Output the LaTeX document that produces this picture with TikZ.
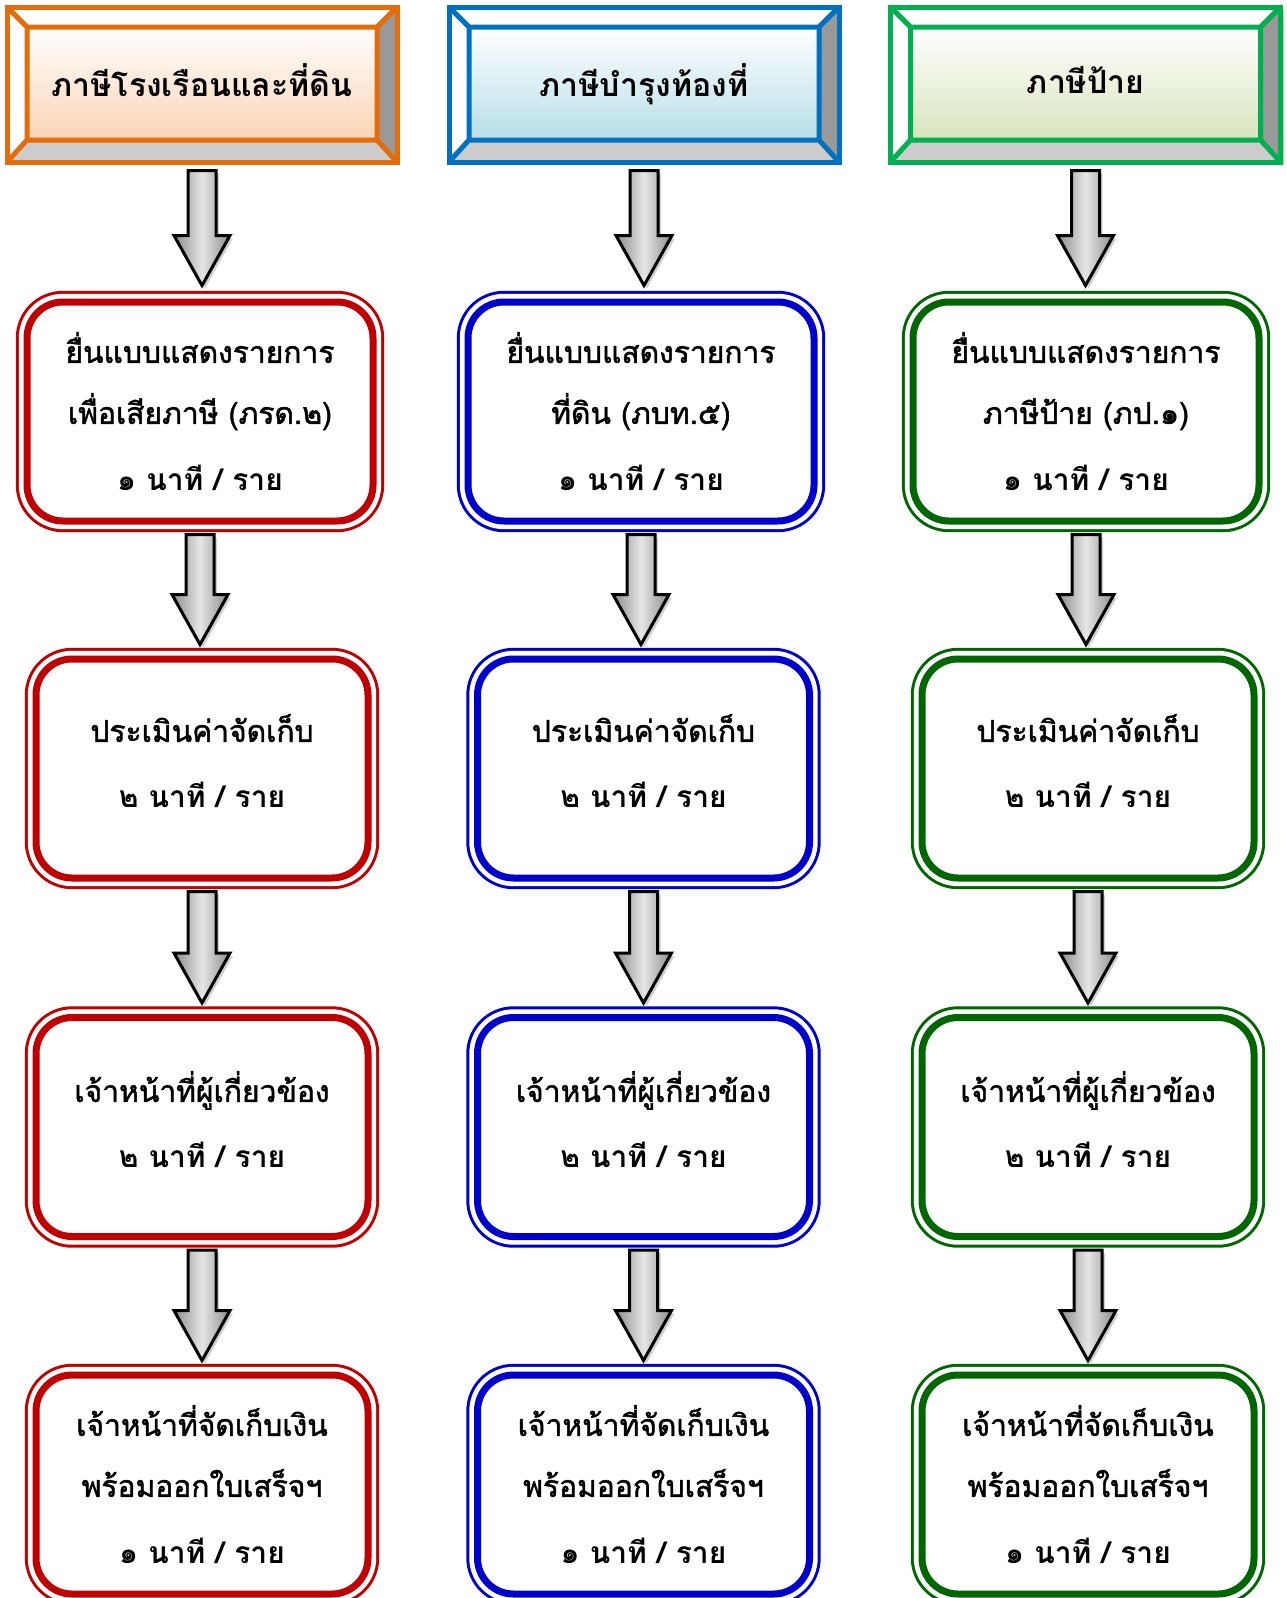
\documentclass[tikz,border=0pt]{standalone}
\usepackage{fontspec}
\newfontfamily\thaifont[Script=Thai,FakeBold=1.5]{Loma}
\newfontfamily\thaibold[Script=Thai]{Loma Bold}
\usetikzlibrary{calc}
\definecolor{hOrange}{HTML}{E46C0A}
\definecolor{hOrangeF}{HTML}{FBD4B4}
\definecolor{hBlue}{HTML}{0070C0}
\definecolor{hBlueF}{HTML}{B7DEE8}
\definecolor{hGreen}{HTML}{00B050}
\definecolor{hGreenF}{HTML}{D7E4BD}
\definecolor{bRed}{HTML}{C00000}
\definecolor{bBlue}{HTML}{0000CC}
\definecolor{bGreen}{HTML}{006600}
\definecolor{hShadow}{RGB}{205,195,175}
\newcommand\tb{\thaibold}
\newcommand\lowpad{\rule[-15pt]{0pt}{0pt}}
\tikzset{
  hdr/.style 2 args={draw=#1, line width=5pt, minimum width=390pt, minimum height=155pt,
    inner sep=0pt, font=\thaibold\fontsize{32}{38}\selectfont,
    preaction={fill=hShadow, transform canvas={shift={(3pt,-3pt)}}},
    fill=white,
    path picture={
      \coordinate (pa) at ([shift={(20pt,-20pt)}]path picture bounding box.north west);
      \coordinate (pb) at ([shift={(-20pt,-20pt)}]path picture bounding box.north east);
      \coordinate (pc) at ([shift={(-20pt,22pt)}]path picture bounding box.south east);
      \coordinate (pd) at ([shift={(20pt,22pt)}]path picture bounding box.south west);
      \fill[black!40] (path picture bounding box.north east) -- (path picture bounding box.south east) -- (pc) -- (pb) -- cycle;
      \fill[black!20] (path picture bounding box.south west) -- (path picture bounding box.south east) -- (pc) -- (pd) -- cycle;
      \shade[top color=white, bottom color=#2] (pa) rectangle (pc);
      \draw[#1, line width=5pt] (pa) rectangle (pc)
        (pa) -- (path picture bounding box.north west)
        (pb) -- (path picture bounding box.north east)
        (pc) -- (path picture bounding box.south east)
        (pd) -- (path picture bounding box.south west);
    }},
  rbox/.style={draw=#1, line width=7pt, rounded corners=36pt, fill=white,
    preaction={draw=#1, line width=22.4pt},
    preaction={draw=white, line width=16.4pt},
    minimum width=332pt, minimum height=219pt, inner sep=0pt, align=center,
    font=\thaifont\fontsize{30}{61}\selectfont},
  wide/.style={minimum width=346pt},
  fatarr/.style={draw=black, line width=3pt, line join=miter,
    left color=black!45, right color=black!45, middle color=black!10,
    preaction={fill=black!18, transform canvas={shift={(3pt,-3pt)}}}}
}
\newcommand\fatarrow[4]{%
  \path let \p1=(#1.south), \p2=(#2.north) in
    [fatarr] ({\x1-14pt},{\y1-#3}) -- ({\x1+14pt},{\y1-#3}) -- ({\x1+14pt},{\y2+#4+50pt})
    -- ({\x1+28pt},{\y2+#4+50pt}) -- ({\x1},{\y2+#4}) -- ({\x1-28pt},{\y2+#4+50pt})
    -- ({\x1-14pt},{\y2+#4+50pt}) -- cycle;}
\begin{document}
\begin{tikzpicture}[x=1pt,y=-1pt]
\useasboundingbox (0,0) rectangle (1287,1598);
% headers
\node[hdr={hOrange}{hOrangeF}] (h1) at (202,84.5) {\raisebox{9pt}{ภาษีโรงเรือนและที่ดิน}};
\node[hdr={hBlue}{hBlueF}] (h2) at (644,84.5) {\raisebox{9pt}{ภาษีบำรุงท้องที่}};
\node[hdr={hGreen}{hGreenF}] (h3) at (1085.5,84.5) {\raisebox{9pt}{ภาษีป้าย}};
% row 1
\node[rbox=bRed, wide] (a1) at (200,411.5) {ยื่นแบบแสดงรายการ\\เพื่อเสียภาษี (ภรด.๒)\\[6pt]\tb ๑ นาที / ราย};
\node[rbox=bBlue, wide] (b1) at (641,411.5) {ยื่นแบบแสดงรายการ\\ที่ดิน (ภบท.๕)\\[6pt]\tb ๑ นาที / ราย};
\node[rbox=bGreen, wide] (c1) at (1086,411.5) {ยื่นแบบแสดงรายการ\\ภาษีป้าย (ภป.๑)\\[6pt]\tb ๑ นาที / ราย};
% row 2
\node[rbox=bRed] (a2) at (202,768.5) {ประเมินค่าจัดเก็บ\\[5pt]\tb ๒ นาที / ราย\lowpad};
\node[rbox=bBlue] (b2) at (643.5,768.5) {ประเมินค่าจัดเก็บ\\[5pt]\tb ๒ นาที / ราย\lowpad};
\node[rbox=bGreen] (c2) at (1088,768.5) {ประเมินค่าจัดเก็บ\\[5pt]\tb ๒ นาที / ราย\lowpad};
% row 3
\node[rbox=bRed] (a3) at (202,1127) {เจ้าหน้าที่ผู้เกี่ยวข้อง\\[5pt]\tb ๒ นาที / ราย\lowpad};
\node[rbox=bBlue] (b3) at (643.5,1127) {เจ้าหน้าที่ผู้เกี่ยวข้อง\\[5pt]\tb ๒ นาที / ราย\lowpad};
\node[rbox=bGreen] (c3) at (1088,1127) {เจ้าหน้าที่ผู้เกี่ยวข้อง\\[5pt]\tb ๒ นาที / ราย\lowpad};
% row 4
\node[rbox=bRed] (a4) at (202,1484.5) {เจ้าหน้าที่จัดเก็บเงิน\\พร้อมออกใบเสร็จฯ\\[6pt]\tb ๑ นาที / ราย};
\node[rbox=bBlue] (b4) at (643.5,1484.5) {เจ้าหน้าที่จัดเก็บเงิน\\พร้อมออกใบเสร็จฯ\\[6pt]\tb ๑ นาที / ราย};
\node[rbox=bGreen] (c4) at (1088,1484.5) {เจ้าหน้าที่จัดเก็บเงิน\\พร้อมออกใบเสร็จฯ\\[6pt]\tb ๑ นาที / ราย};
% arrows
\fatarrow{h1}{a1}{6pt}{13pt}
\fatarrow{h2}{b1}{6pt}{13pt}
\fatarrow{h3}{c1}{6pt}{13pt}
\fatarrow{a1}{a2}{10pt}{11pt}
\fatarrow{b1}{b2}{10pt}{11pt}
\fatarrow{c1}{c2}{10pt}{11pt}
\fatarrow{a2}{a3}{10pt}{11pt}
\fatarrow{b2}{b3}{10pt}{11pt}
\fatarrow{c2}{c3}{10pt}{11pt}
\fatarrow{a3}{a4}{10pt}{11pt}
\fatarrow{b3}{b4}{10pt}{11pt}
\fatarrow{c3}{c4}{10pt}{11pt}
\end{tikzpicture}
\end{document}
